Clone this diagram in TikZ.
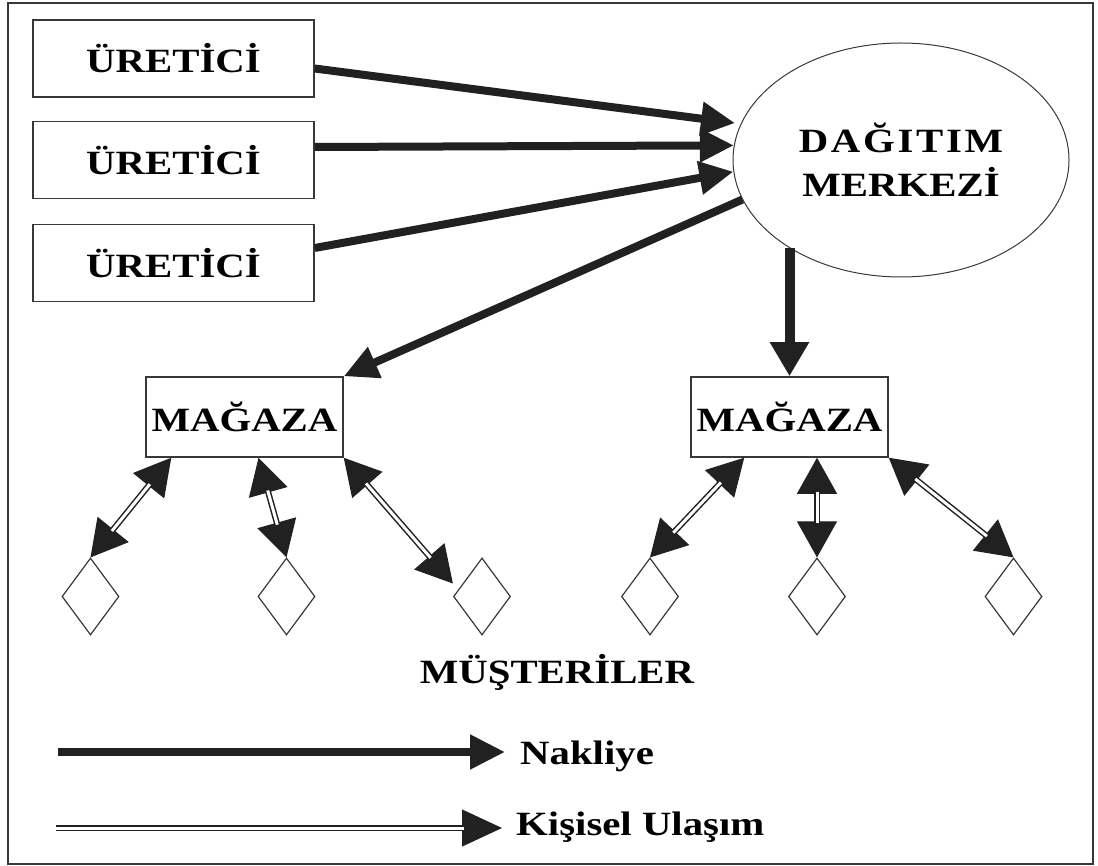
\documentclass[tikz,border=0pt]{standalone}
\usepackage{fontspec}
\setmainfont{Liberation Serif}[FakeStretch=1.2]
\usetikzlibrary{arrows.meta,shapes.geometric,calc}
\definecolor{ink}{gray}{0.13}
\definecolor{edge}{gray}{0.22}

\begin{document}
\begin{tikzpicture}[x=1pt,y=-1pt,
  lbl/.style={font=\fontsize{34}{44}\selectfont\bfseries, text=black},
  box/.style={draw=edge, line width=1.5pt, fill=white, lbl, inner sep=0pt},
  producer/.style={box, minimum width=281pt, minimum height=77pt},
  shop/.style={box, minimum width=197pt, minimum height=80pt},
  hub/.style={ellipse, draw=edge, line width=1pt, minimum width=336pt,
    minimum height=234pt, inner sep=0pt, lbl, align=center},
  customer/.style={diamond, draw=edge, line width=1.2pt, minimum width=57pt,
    minimum height=77pt, inner sep=0pt, aspect=0.74},
  haul/.style={draw=ink, line width=8pt, -{Triangle[length=34pt,width=32pt]}},
  visit/.style={draw=ink, line width=1pt,
    {Triangle[length=36pt,width=40pt]}-{Triangle[length=36pt,width=40pt]},
    postaction={draw=ink, -, double=white, double distance=3pt,
      line width=1.5pt, shorten <=34pt, shorten >=34pt}},
  visitto/.style={draw=ink, line width=1pt, -{Triangle[length=40pt,width=37pt]},
    postaction={draw=ink, -, double=white, double distance=3pt,
      line width=1.5pt, shorten >=38pt}},
]
\useasboundingbox (0,0) rectangle (1098,866);
\draw[edge, line width=2pt] (8,3) rectangle (1093,864);

% producers and distribution centre
\node[producer] (p1) at (173.5,58.5) {ÜRETİCİ};
\node[producer] (p2) at (173.5,160) {ÜRETİCİ};
\node[producer] (p3) at (173.5,263) {ÜRETİCİ};
\node[hub] (dc) at (901,160)
  {{\addfontfeature{LetterSpace=8}DAĞITIM}\\MERKEZİ};

% stores
\node[shop] (s1) at (244.5,417) {MAĞAZA};
\node[shop] (s2) at (789.5,417) {MAĞAZA};

% customers
\node[customer] (c1) at (90.5,596.5) {};
\node[customer] (c2) at (286.5,596.5) {};
\node[customer] (c3) at (482,596.5) {};
\node[customer] (c4) at (650,596.5) {};
\node[customer] (c5) at (817,596.5) {};
\node[customer] (c6) at (1013.5,596.5) {};
\node[lbl, anchor=base, inner sep=0pt] (cust) at (557,683) {MÜŞTERİLER};

% transport flows
\draw[haul] ([yshift=-10pt]p1.east) -- ([xshift=-6pt]dc.167);
\draw[haul] ([yshift=13pt]p2.east) -- (dc.175.5);
\draw[haul] ([yshift=15pt]p3.east) -- (dc.184.4);
\draw[haul] (dc.194) -- (s1.north east);
\draw[haul, line width=10pt, -{Triangle[length=34pt,width=37pt]}]
  (s2.north |- dc.218.3) -- (s2.north);

% customer trips
\draw[visit] ([xshift=26pt]s1.south west) -- (c1.north);
\draw[visit] ([xshift=14pt]s1.south) -- (c2.north);
\draw[visit] (s1.south east) -- ([yshift=13pt]c3.west);
\draw[visit] ([xshift=54pt]s2.south west) -- (c4.north);
\draw[visit] (c5.north |- s2.south) -- (c5.north);
\draw[visit] (s2.south east) -- (c6.north);

% legend
\coordinate (h0) at (58,752);
\coordinate (h1) at (505,752);
\draw[haul, -{Triangle[length=35pt,width=33pt]}] (h0) -- (h1);
\node[lbl, anchor=base west, inner sep=0pt] (nak) at (520,764) {Nakliye};
\coordinate (v0) at (56,828);
\coordinate (v1) at (502,828);
\draw[visitto] (v0) -- (v1);
\node[lbl, anchor=base west, inner sep=0pt] (kis) at (516,835) {Kişisel Ulaşım};
\end{tikzpicture}
\end{document}
